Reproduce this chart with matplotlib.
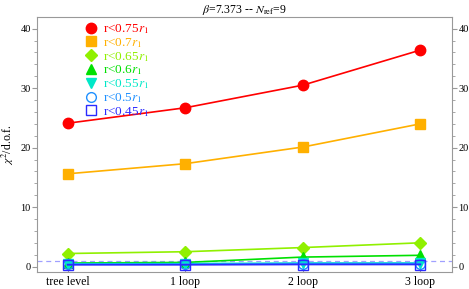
import matplotlib.pyplot as plt
import numpy as np

plt.rcParams['font.family'] = ['Liberation Serif', 'DejaVu Serif']
plt.rcParams['mathtext.fontset'] = 'stix'

orders = ['tree level', '1 loop', '2 loop', '3 loop']
labels = [r'r<0.75$r_1$', r'r<0.7$r_1$', r'r<0.65$r_1$', r'r<0.6$r_1$',
          r'r<0.55$r_1$', r'r<0.5$r_1$', r'r<0.45$r_1$']
chi2 = [
    [24.1, 26.7, 30.5, 36.4],
    [15.6, 17.3, 20.1, 24.0],
    [2.2, 2.5, 3.2, 4.0],
    [0.6, 0.7, 1.6, 1.9],
    [0.5, 0.5, 0.6, 0.6],
    [0.4, 0.4, 0.5, 0.5],
    [0.3, 0.3, 0.35, 0.35],
]
colors = ['#ff0000', '#ffb000', '#90f000', '#00e000', '#00e8c8', '#1e90ff', '#2a2aff']
markers = ['o', 's', 'D', '^', 'v', 'o', 's']
msizes = [7.5, 7, 6, 7, 7, 7, 6.5]
filled = [True, True, True, True, True, False, False]

fig = plt.figure(figsize=(4.69, 2.89), dpi=100)
ax = fig.add_axes([0.079, 0.059, 0.885, 0.883])

x = np.arange(len(orders))
ax.axhline(1, color='#a0a0ff', ls='--', lw=0.9, dashes=(4, 3), zorder=1)
for vals, c, m, ms, f, lab in zip(chi2, colors, markers, msizes, filled, labels):
    ax.plot(x, vals, color=c, lw=1.2, marker=m, ms=ms,
            mfc=c if f else 'none', mec=c, mew=1.0, label=lab)

ax.set_xlim(-0.26, 3.27)
ax.set_ylim(-0.9, 42)
ax.set_xticks(x)
ax.set_xticklabels(orders)
ax.set_yticks([0, 10, 20, 30, 40])
ax.set_yticks(np.arange(0, 42, 2), minor=True)
ax.tick_params(axis='y', which='both', direction='out', right=True, labelright=True,
               labelsize=7.5, color='#999999', pad=1)
ax.tick_params(axis='y', which='major', length=3.5)
ax.tick_params(axis='y', which='minor', length=2)
ax.tick_params(axis='x', direction='in', length=3, labelsize=8.5, color='#999999', pad=3)
for s in ax.spines.values():
    s.set_color('#999999')

ax.set_ylabel(r'$\chi^2$/d.o.f.', fontsize=8.5, labelpad=3)
ax.set_title(r'$\beta$=7.373 -- $N_{\rm ref}$=9', fontsize=8.5, pad=1)

leg = ax.legend(loc='upper left', bbox_to_anchor=(0.095, 1.015), frameon=False,
                handlelength=0.8, handletextpad=0.5, labelspacing=0.0,
                fontsize=9.5, labelcolor='linecolor', borderpad=0.2)
for h in leg.get_lines():
    h.set_linestyle('none')

fig.savefig('out.png', dpi=100)
